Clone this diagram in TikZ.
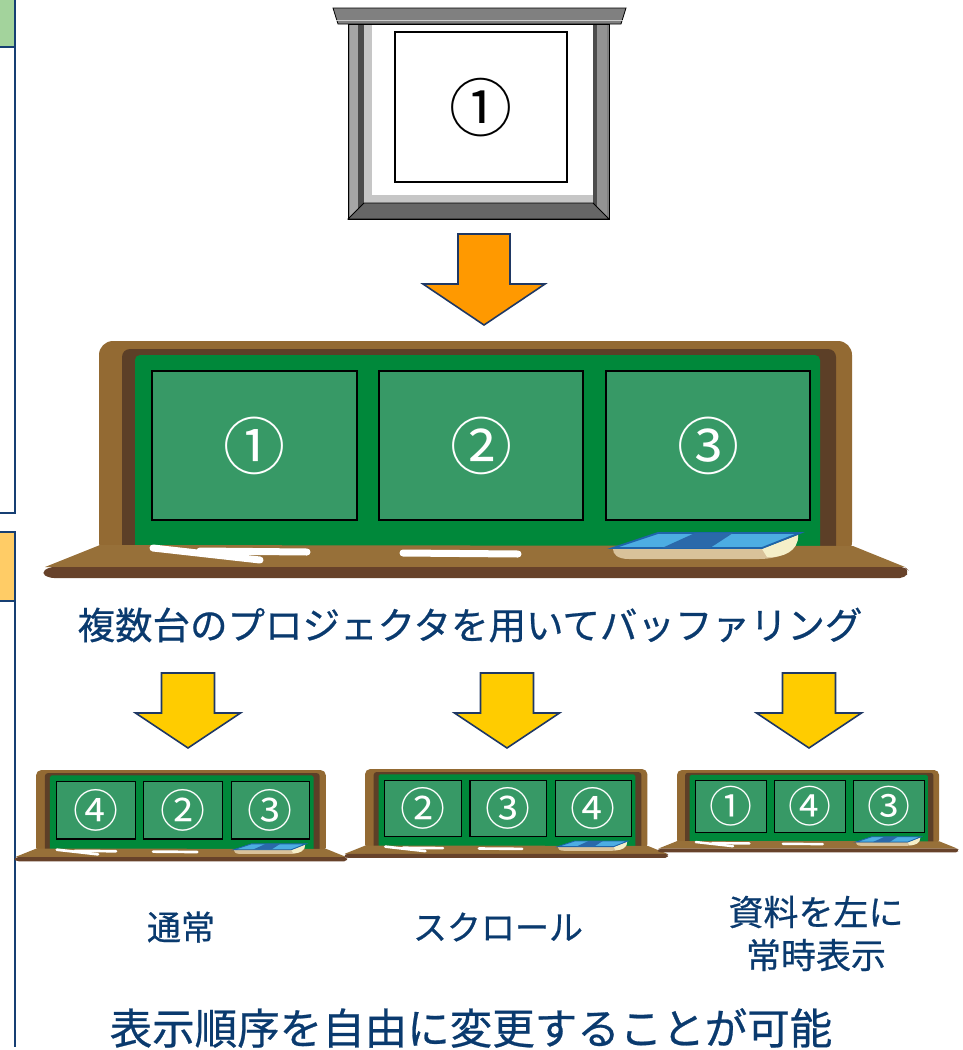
\documentclass[tikz,border=0pt]{standalone}
\usepackage{fontspec}
\newfontfamily\jp[FakeBold=0.6]{Noto Sans CJK JP}
\newfontfamily\jpnum{Noto Sans CJK JP}

\definecolor{navy}{HTML}{0A3A6E}
\definecolor{edgeblue}{HTML}{163F73}
\definecolor{tabgreen}{HTML}{A3D39C}
\definecolor{tabyellow}{HTML}{FFCC66}
\definecolor{woodlight}{HTML}{936A33}
\definecolor{wooddark}{HTML}{5C3F27}
\definecolor{ledgetop}{HTML}{977039}
\definecolor{ledgeband}{HTML}{67422A}
\definecolor{boardgreen}{HTML}{00883A}
\definecolor{panelgreen}{HTML}{379966}
\definecolor{eraserblue}{HTML}{4DADE2}
\definecolor{eraserdark}{HTML}{2A69AA}
\definecolor{eraseredge}{HTML}{1E64AA}
\definecolor{erasertan}{HTML}{D9C29A}
\definecolor{erasercream}{HTML}{F5EFC8}
\definecolor{arroworange}{HTML}{FF9900}
\definecolor{arrowyellow}{HTML}{FFCC00}
\definecolor{arrowedge}{HTML}{1F3864}

% A blackboard with three screens: #1,#2 top-left corner, #3 scale,
% #4 font size of the numbers, #5-#7 the numbers, #8 name prefix
\newcommand\blackboard[8]{%
\begin{scope}[shift={(#1,#2)},scale=#3]
  % wooden frame
  \fill[woodlight,rounded corners=14*#3] (0,215) -- (0,0) -- (753,0) -- (753,215) -- cycle;
  \fill[wooddark,rounded corners=8*#3] (23,215) -- (23,8) -- (737,8) -- (737,215) -- cycle;
  \fill[boardgreen,rounded corners=5*#3] (36,215) -- (36,14) -- (721,14) -- (721,215) -- cycle;
  % screens
  \draw[fill=panelgreen,line width=1.6*#3+0.6] (53,30) rectangle (258,179);
  \draw[fill=panelgreen,line width=1.6*#3+0.6] (280,30) rectangle (484,179);
  \draw[fill=panelgreen,line width=1.6*#3+0.6] (507,30) rectangle (711,179);
  \node[text=white,font=\jpnum\fontsize{#4}{#4}\selectfont] (#8a) at (155.5,104.5) {#5};
  \node[text=white,font=\jpnum\fontsize{#4}{#4}\selectfont] (#8b) at (382,104.5) {#6};
  \node[text=white,font=\jpnum\fontsize{#4}{#4}\selectfont] (#8c) at (609,104.5) {#7};
  % chalk ledge
  \fill[ledgetop] (1,204) -- (754,205) -- (806,226) -- (-54,226) -- cycle;
  \fill[ledgeband,rounded corners=5*#3] (-50,226) -- (806,226) -- (810,230) -- (806,237) -- (-50,237) -- (-58,232) -- cycle;
  % chalk
  \draw[white,line width=7*#3,line cap=round] (54,207) -- (161,219);
  \draw[white,line width=7*#3,line cap=round] (101,210) -- (208,211);
  \draw[white,line width=7*#3,line cap=round] (304,212) -- (419,213);
  % eraser
  \fill[erasertan] (514,208) -- (663,208) -- (699,194)
     .. controls (700,210) and (680,218) .. (660,218) -- (530,218)
     .. controls (518,218) and (514,213) .. cycle;
  \fill[erasercream] (663,208) -- (699,194)
     .. controls (700,210) and (684,217) .. (668,216) -- cycle;
  \draw[fill=eraserblue,draw=eraseredge,line width=1.5*#3+0.3] (514,207) -- (559,192) -- (701,192) -- (663,207) -- cycle;
  \fill[eraserdark] (563,207) -- (596,192) -- (634,192) -- (611,207) -- cycle;
\end{scope}}

\begin{document}
\begin{tikzpicture}[x=1pt,y=-1pt,
  tab/.style={draw=edgeblue,line width=2.5pt},
  downarrow/.style={draw=arrowedge,line width=1.6pt,line join=miter},
  caption/.style={text=navy,font=\jp\fontsize{#1}{#1}\selectfont,inner sep=0pt},
  caption/.default=34]
  \useasboundingbox (0,0) rectangle (963,1050);

  % side tabs along the left edge
  \draw[tab] (-5,-5) rectangle (15,513);
  \draw[tab,fill=tabgreen] (-5,-5) rectangle (15,47);
  \draw[tab,fill=tabyellow] (-5,532) rectangle (15,601);
  \draw[tab] (15,601) -- (15,1047);

  % projection screen
  \draw[fill=gray!100,line width=0.8pt] (333,8) -- (626,8) -- (621,24) -- (338,24) -- cycle;
  \draw[gray!40,line width=1pt] (336,20) -- (623,20);
  \draw[fill=gray,line width=0.8pt] (348,24) rectangle (609,219);
  \fill[gray!70] (350,24) rectangle (358,218);
  \fill[black!70] (358,24) rectangle (364,210);
  \fill[white] (364,24) rectangle (593,203);
  \fill[gray!45] (364,24) rectangle (372,203);
  \fill[gray!45] (364,195) rectangle (593,203);
  \fill[black!70] (593,24) rectangle (597,210);
  \fill[gray!85] (597,24) rectangle (607,218);
  \draw[fill=black!60,line width=0.8pt] (364,203) -- (593,203) -- (609,219) -- (348,219) -- cycle;
  \draw[line width=0.8pt] (348,24) rectangle (609,219);
  \draw[fill=white,line width=1.3pt] (395,32) rectangle (567,182);
  \node[font=\jpnum\fontsize{63}{63}\selectfont] (screennum) at (481,108) {①};

  % orange arrow to the large board
  \draw[downarrow,fill=arroworange] (458,234) -- (510,234) -- (510,284) -- (545,284)
     -- (484,325) -- (423,284) -- (458,284) -- cycle;

  % large board
  \blackboard{99}{341}{1}{62}{①}{②}{③}{big}
  \node[caption=37.5] (title) at (470,625) {複数台のプロジェクタを用いてバッファリング};

  % yellow arrows to the small boards
  \foreach \c in {188,507,809}{
    \draw[downarrow,fill=arrowyellow] (\c-26.5,673) -- (\c+26.5,673) -- (\c+26.5,713)
      -- (\c+52.5,713) -- (\c,748) -- (\c-52.5,713) -- (\c-26.5,713) -- cycle;
  }

  % small boards
  \blackboard{36}{770}{0.385}{45}{④}{②}{③}{left}
  \blackboard{365}{769}{0.375}{45}{②}{③}{④}{mid}
  \blackboard{677}{770}{0.348}{43}{①}{④}{③}{right}

  \node[caption] (normal) at (181,927) {通常};
  \node[caption] (scroll) at (498,927) {スクロール};
  \node[caption=35] (fixed1) at (816,912) {資料を左に};
  \node[caption=35] (fixed2) at (816,955) {常時表示};

  \node[caption=42.5] (footer) at (471,1028) {表示順序を自由に変更することが可能};
\end{tikzpicture}
\end{document}
